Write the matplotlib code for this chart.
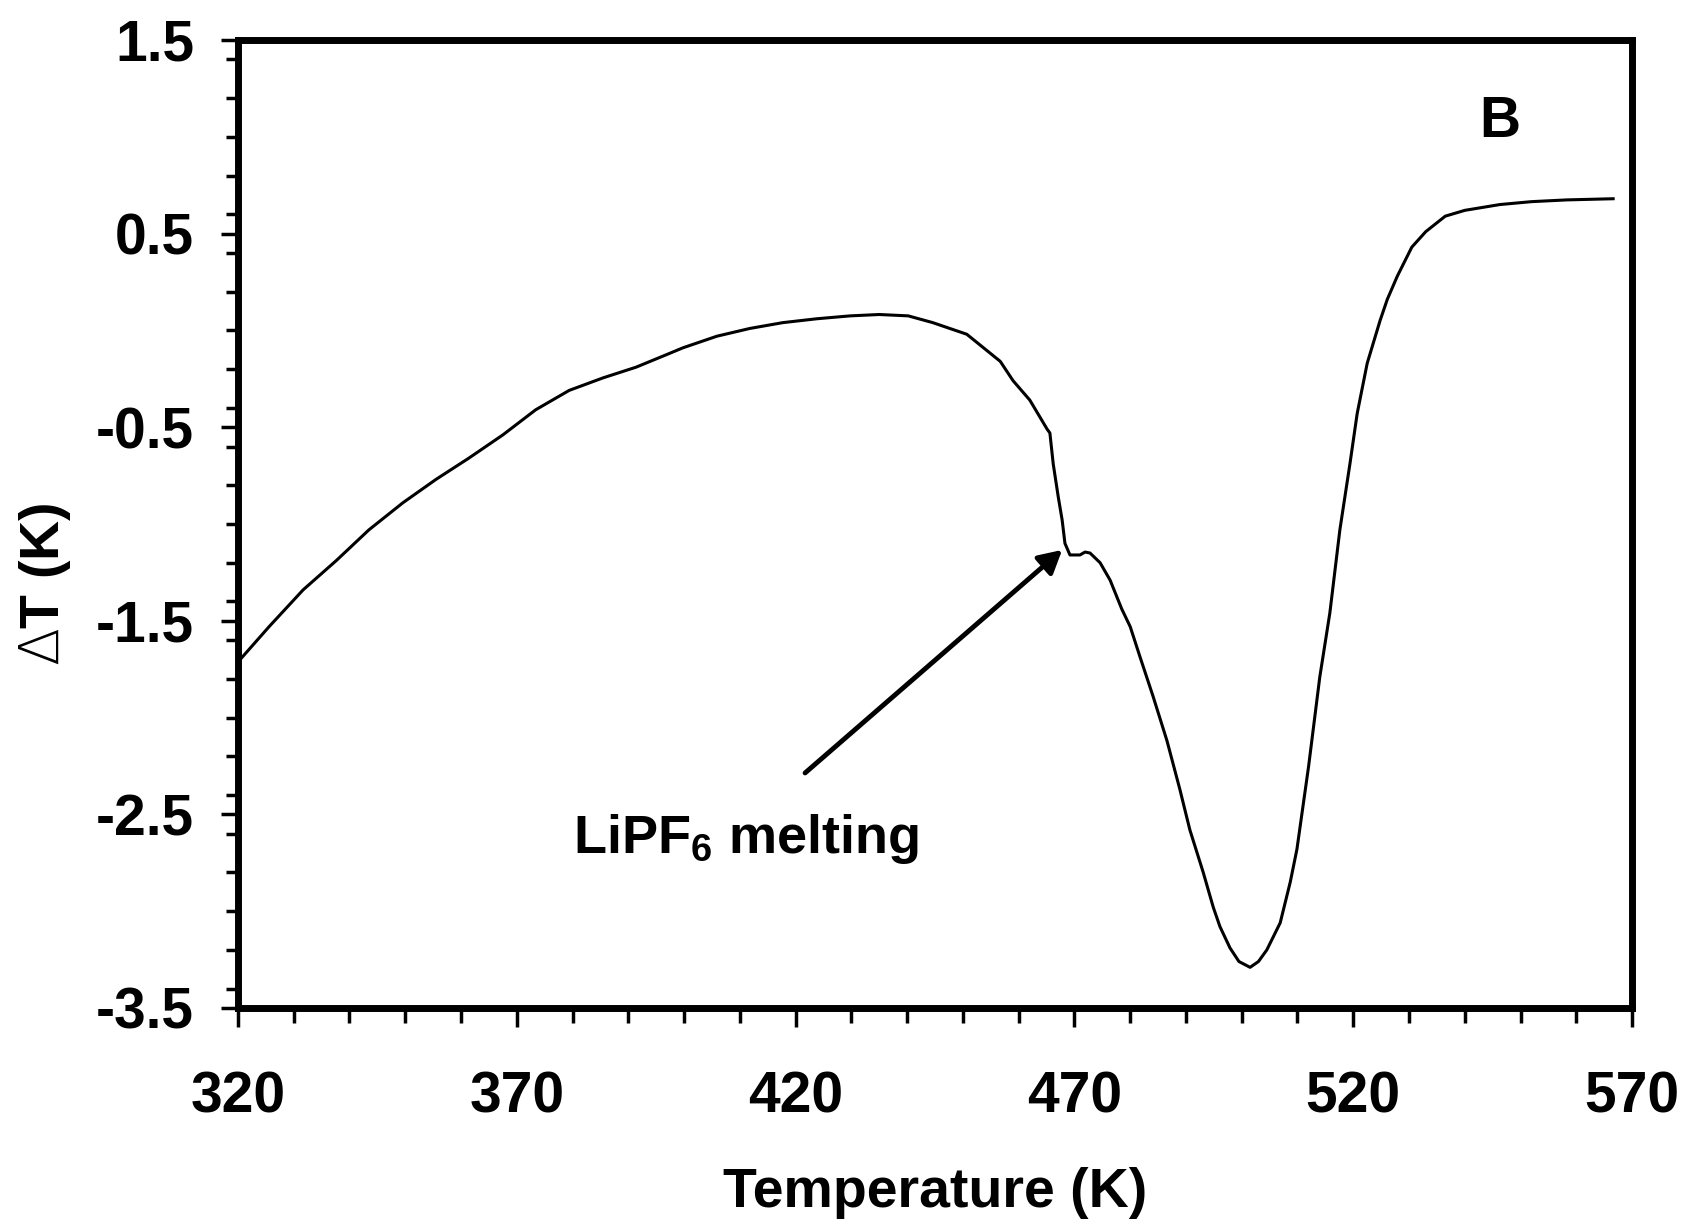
import matplotlib
matplotlib.use("Agg")
import matplotlib.pyplot as plt
from matplotlib.ticker import MultipleLocator

plt.rcParams['font.family'] = ['Liberation Sans', 'DejaVu Sans']
plt.rcParams['font.weight'] = 'bold'
plt.rcParams['mathtext.fontset'] = 'custom'
plt.rcParams['mathtext.rm'] = 'DejaVu Sans:light'
plt.rcParams['mathtext.bf'] = 'Liberation Sans:bold'
plt.rcParams['mathtext.it'] = 'Liberation Sans:italic'

# DTA trace: temperature (K) and delta T (K)
temp = [320.4, 325.6, 331.7, 337.6, 343.5, 349.6, 355.5, 361.4, 367.5, 373.4,
        379.4, 385.5, 391.4, 397.3, 399.8, 405.9, 411.8, 417.7, 423.8, 429.8,
        435.0, 440.2, 444.6, 450.7, 456.7, 459.0, 462.0, 465.1, 465.6, 466.2,
        467.1, 467.8, 468.3, 469.2, 471.0, 471.9, 472.8, 474.6, 476.4, 478.5,
        480.0, 481.8, 484.1, 486.6, 488.9, 490.7, 493.1, 494.9, 496.1, 497.9,
        499.5, 501.5, 503.0, 504.5, 506.9, 508.7, 509.9, 512.0, 514.0, 515.8,
        517.6, 519.4, 520.7, 522.5, 524.8, 526.1, 527.9, 530.5, 533.0, 536.5,
        540.0, 546.3, 552.0, 558.3, 566.6]
dT = [-1.70, -1.53, -1.34, -1.19, -1.03, -0.89, -0.77, -0.66, -0.54, -0.41,
      -0.31, -0.245, -0.19, -0.12, -0.09, -0.03, 0.01, 0.04, 0.06, 0.075,
      0.082, 0.075, 0.04, -0.02, -0.16, -0.26, -0.36, -0.51, -0.53, -0.69,
      -0.86, -0.98, -1.10, -1.16, -1.16, -1.145, -1.15, -1.20, -1.29, -1.44,
      -1.53, -1.69, -1.89, -2.12, -2.37, -2.58, -2.80, -2.98, -3.08, -3.19,
      -3.26, -3.29, -3.26, -3.20, -3.06, -2.85, -2.68, -2.25, -1.79, -1.46,
      -1.03, -0.69, -0.43, -0.17, 0.05, 0.16, 0.28, 0.43, 0.51, 0.59,
      0.62, 0.65, 0.665, 0.674, 0.68]

xticks = [320, 370, 420, 470, 520, 570]
yticks = [-3.5, -2.5, -1.5, -0.5, 0.5, 1.5]

fig = plt.figure(figsize=(16.85, 12.19), dpi=100)
ax = fig.add_axes([0.1412, 0.1731, 0.8274, 0.7941])

ax.plot(temp, dT, color='black', lw=2.2)

ax.set_xlim(320, 570)
ax.set_ylim(-3.5, 1.5)
ax.set_xticks(xticks)
ax.set_yticks(yticks)
ax.set_xticklabels([str(t) for t in xticks])
ax.set_yticklabels(['%.1f' % v for v in yticks])
ax.xaxis.set_minor_locator(MultipleLocator(10))
ax.yaxis.set_minor_locator(MultipleLocator(0.2))

for s in ax.spines.values():
    s.set_linewidth(5)
ax.tick_params(axis='x', which='major', direction='out', length=14, width=2.5,
               pad=31, labelsize=41)
ax.tick_params(axis='x', which='minor', direction='out', length=11, width=2.5)
ax.tick_params(axis='y', which='major', direction='out', length=12.6, width=2.5,
               pad=19, labelsize=41)
ax.tick_params(axis='y', which='minor', direction='out', length=9, width=2.5)

ax.set_xlabel('Temperature (K)', fontsize=40, fontweight='bold')
ax.xaxis.set_label_coords(0.5, -0.164)
ax.set_ylabel(r'$\mathrm{\Delta}$T (K)', fontsize=40, fontweight='bold')
ax.yaxis.set_label_coords(-0.118, 0.438)

ax.text(546.3, 1.0, 'B', fontsize=41, fontweight='bold', ha='center', va='baseline')

ax.annotate('', xy=(467.8, -1.134), xytext=(421.7, -2.286),
            arrowprops=dict(arrowstyle='-|>,head_length=0.55,head_width=0.3',
                            lw=3.5, color='black', mutation_scale=25,
                            shrinkA=0, shrinkB=0))
ax.text(380.0, -2.70, r'LiPF$_\mathbf{6}$ melting', fontsize=39,
        fontweight='bold', ha='left', va='baseline')

fig.savefig('out.png', dpi=100)
